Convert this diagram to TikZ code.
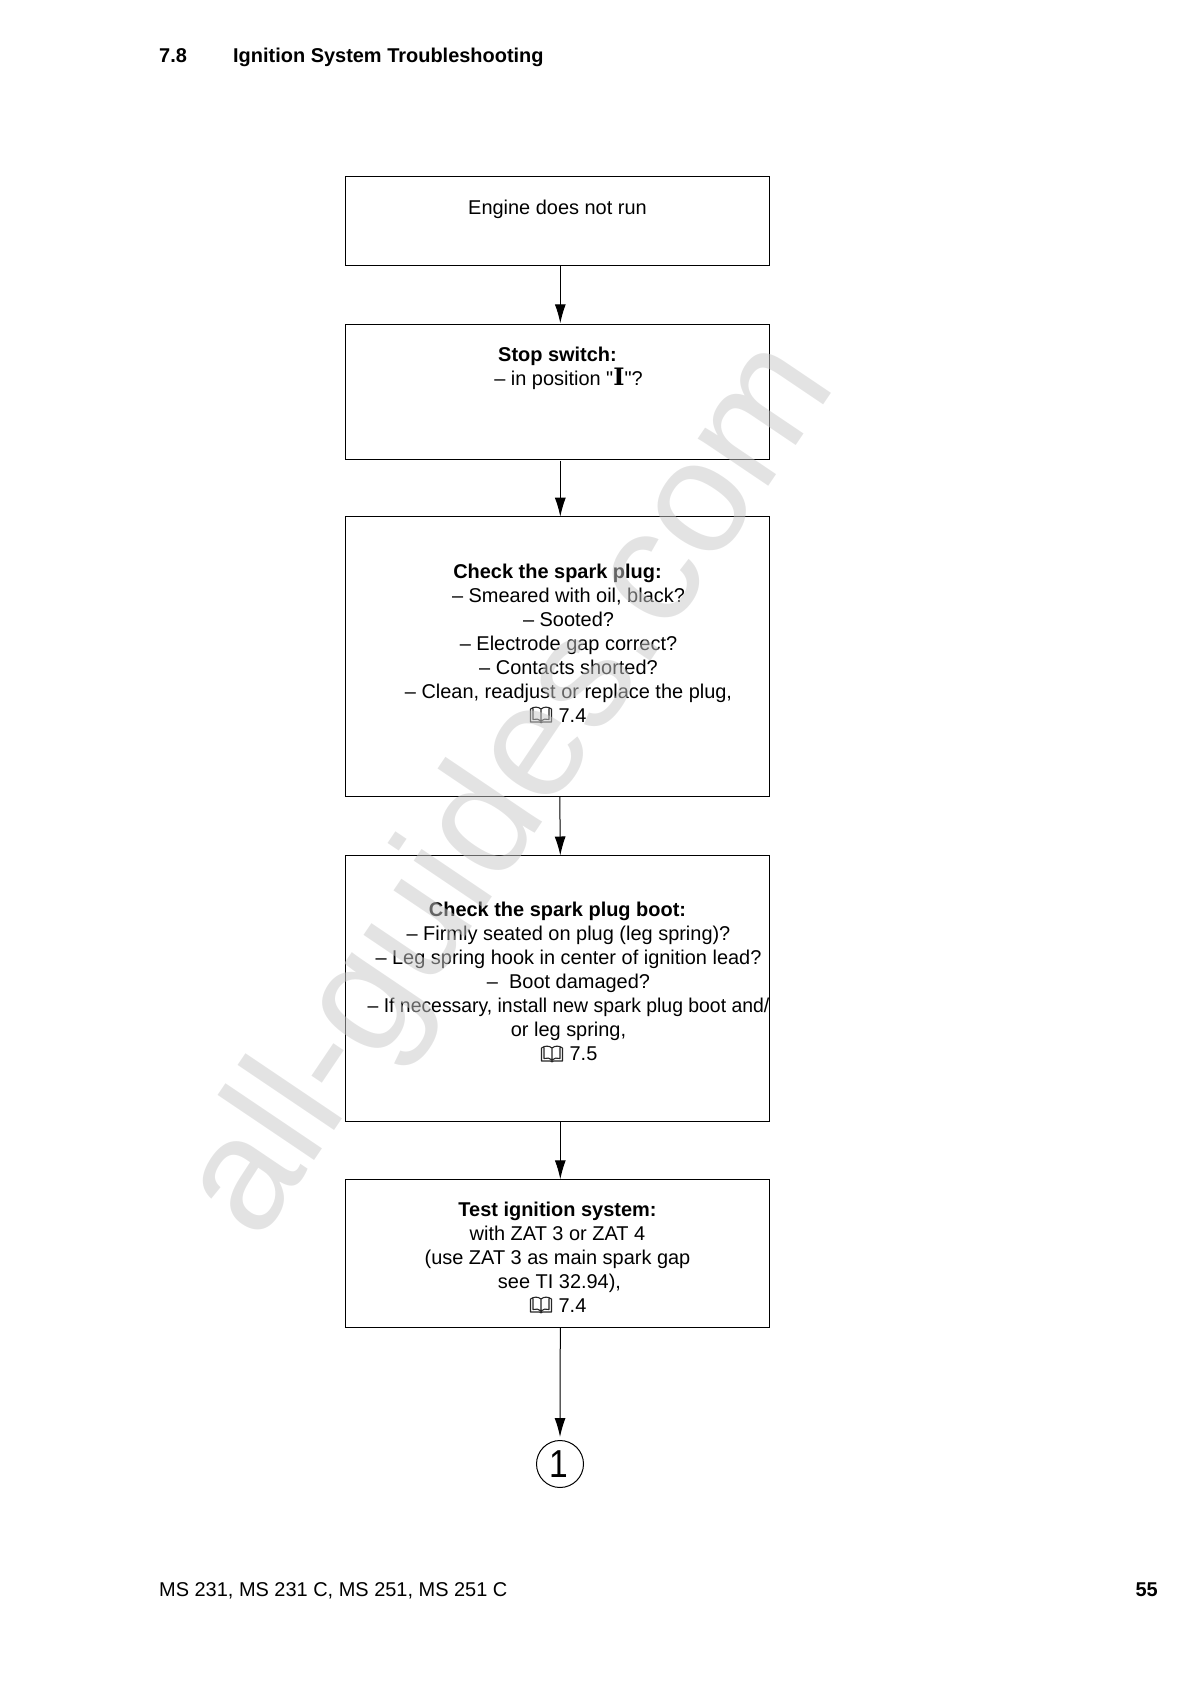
\documentclass[tikz,border=0pt]{standalone}
\usepackage{fontspec}
\setmainfont{Liberation Sans}
\newfontfamily\plainsans{Liberation Sans}
\newfontfamily\serifbold{DejaVu Serif}[BoldFont={DejaVu Serif Bold}]
\usetikzlibrary{arrows.meta,calc}
\tikzset{
  x=1pt,y=-1pt,
  flowbox/.style={draw=black,line width=1pt,minimum width=424pt,inner sep=0pt,outer sep=0pt,anchor=north west},
  boxtext/.style={align=center,anchor=north,inner sep=0pt,font=\fontsize{19.95}{24}\selectfont},
  pagetext/.style={anchor=base west,inner sep=0pt,font=\fontsize{19.95}{24}\selectfont},
  pagebold/.style={pagetext,font=\fontsize{19.95}{24}\selectfont\bfseries},
  flowarrow/.style={draw=black,line width=1pt,-{Latex[length=19pt,width=11pt]}},
  wmark/.style={text=black!21.5,opacity=.5,text opacity=.5,inner sep=0pt,rotate=56,font=\fontsize{160.7}{160.7}\selectfont},
  bookicon/.pic={
    \draw[line width=1.1pt,black!85,line join=round]
      (-10.5,-6) .. controls (-7,-8.5) and (-3,-8.5) .. (0,-6)
      .. controls (3,-8.5) and (7,-8.5) .. (10.5,-6) -- (10.5,7)
      -- (1.5,7) .. controls (1,8) and (-1,8) .. (-1.5,7)
      -- (-10.5,7) -- cycle
      (0,-6) -- (0,7)
      (-8,-6.5) -- (-8,4.5) .. controls (-5,3.5) and (-2,4) .. (0,6)
      .. controls (2,4) and (5,3.5) .. (8,4.5) -- (8,-6.5);
  }
}
\newcommand{\iconspace}{\hspace*{30pt}}
\begin{document}
\begin{tikzpicture}
\useasboundingbox (0,0) rectangle (1191,1684);

% header and footer
\node[pagebold] (secno) at (159,62.5) {7.8};
\node[pagebold] (sectitle) at (233,62.5) {Ignition System Troubleshooting};
\node[pagetext] (model) at (159,1596.5) {MS 231, MS 231 C, MS 251, MS 251 C};
\node[pagebold,anchor=base east] (pageno) at (1158,1596.5) {55};

% boxes
\node[flowbox,minimum height=89.3pt] (b1) at (345.3,176) {};
\node[flowbox,minimum height=135pt] (b2) at (345.3,324.3) {};
\node[flowbox,minimum height=279.8pt] (b3) at (345.3,516.7) {};
\node[flowbox,minimum height=265.8pt] (b4) at (345.3,855.5) {};
\node[flowbox,minimum height=148.2pt] (b5) at (345.3,1179.3) {};
\node[draw=black,line width=1pt,circle,minimum size=47pt,inner sep=0pt,font=\fontsize{39}{39}\selectfont] (end) at (560,1464) {\hspace*{-1.5pt}\scalebox{.86}[1]{1}};

% box texts
\node[boxtext] (t1) at (557.5,199.5) {Engine does not run};
\node[boxtext] (t2) at (557.5,346.8) {\textbf{Stop switch:}\\\hspace*{22pt}– in position {\plainsans"}{\serifbold\bfseries\fontsize{24}{24}\selectfont I}{\plainsans"}?};
\node[boxtext] (t3) at (557.5,563.7) {\textbf{Check the spark plug:}\\\hspace*{22pt}– Smeared with oil, black?\\\hspace*{22pt}– Sooted?\\\hspace*{22pt}– Electrode gap correct?\\\hspace*{22pt}– Contacts shorted?\\\hspace*{22pt}– Clean, readjust or replace the plug,\\\iconspace 7.4};
\node[boxtext] (t4) at (557.5,902) {\textbf{Check the spark plug boot:}\\\hspace*{22pt}– Firmly seated on plug (leg spring)?\\\hspace*{22pt}– Leg spring hook in center of ignition lead?\\\hspace*{22pt}–\ \ Boot damaged?\\\hspace*{22pt}\scalebox{.972}[1]{– If necessary, install new spark plug boot and/}\\\hspace*{22pt}or leg spring,\\\hspace*{22pt}\iconspace 7.5};
\node[boxtext] (t5) at (557.5,1201.5) {\textbf{Test ignition system:}\\with ZAT 3 or ZAT 4\\(use ZAT 3 as main spark gap\\\hspace*{4pt}see TI 32.94),\\\iconspace 7.4};

% book icons
\pic at (541,715) {bookicon};
\pic at (552,1054) {bookicon};
\pic at (541,1305) {bookicon};

% connectors
\draw[flowarrow] ([xshift=3pt]b1.south) -- ([xshift=3pt,yshift=1pt]b2.north);
\draw[flowarrow] ([xshift=3pt,yshift=-1.5pt]b2.south) -- ([xshift=3pt]b3.north);
\draw[flowarrow] ([xshift=2.5pt]b3.south) -- ([xshift=3pt]b4.north);
\draw[flowarrow] ([xshift=3pt]b4.south) -- ([xshift=3pt]b5.north);
\draw[flowarrow,shorten >=3pt] ([xshift=3pt]b5.south) -- (end.north);

% watermark
\node[wmark] (mark) at (513.7,790.5) {all-guides.com};
\end{tikzpicture}
\end{document}
